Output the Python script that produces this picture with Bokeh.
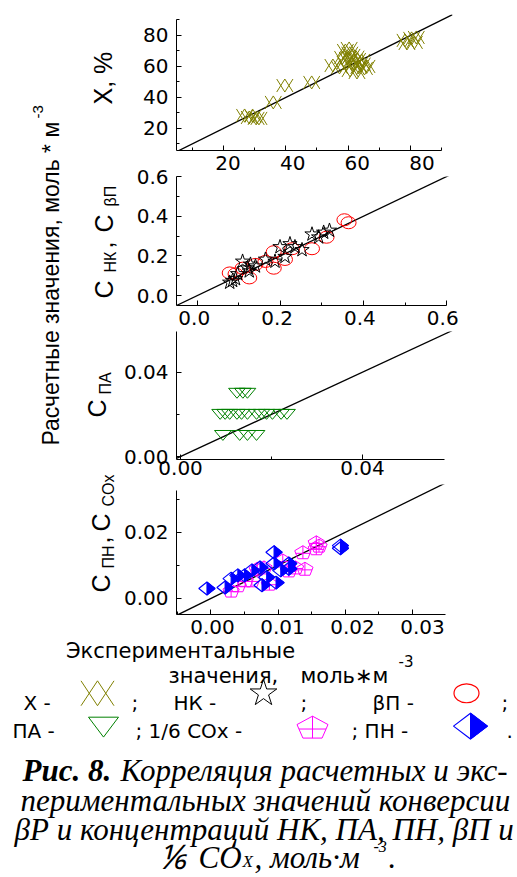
import math
from bokeh.plotting import figure
from bokeh.layouts import row, column
from bokeh.models import Range1d, LinearAxis, FixedTicker, PrintfTickFormatter, Label
from bokeh.embed import file_html
from bokeh.resources import INLINE

# ---------------- data ----------------
# Panel 1: conversion X, % (experimental vs calculated)
x_exp = [28.3, 30.5, 26.8, 31.4, 29.5, 36.0, 39.7, 48.3, 55.1, 57.2, 59.1, 59.7, 61.2, 62.2, 63.4,
         64.3, 60.6, 62.8, 65.2, 58.2, 60.3, 61.8, 63.0, 61.0, 60.5, 62.5, 64.5, 59.0, 66.0,
         78.8, 80.3, 81.2, 78.2, 81.8]
x_calc = [27.1, 26.5, 28.4, 26.5, 28.0, 36.8, 47.7, 49.7, 60.6, 59.4, 70.3, 65.2, 67.1, 62.6, 59.4,
          63.9, 57.4, 56.1, 58.7, 65.8, 71.6, 60.6, 64.5, 62.0, 68.5, 66.0, 61.5, 62.5, 60.0,
          74.8, 78.1, 75.5, 76.8, 78.7]
# Panel 2: НК (stars) and βП (circles)
nk_exp = [0.078, 0.085, 0.092, 0.097, 0.109, 0.121, 0.125, 0.128, 0.140, 0.164, 0.187, 0.199,
          0.211, 0.223, 0.235, 0.252, 0.276, 0.292, 0.304, 0.318]
nk_calc = [0.066, 0.075, 0.084, 0.109, 0.172, 0.138, 0.123, 0.157, 0.148, 0.182, 0.172, 0.245,
           0.196, 0.260, 0.245, 0.230, 0.309, 0.294, 0.318, 0.328]
bp_exp = [0.078, 0.092, 0.109, 0.125, 0.140, 0.164, 0.184, 0.184, 0.211, 0.228, 0.276, 0.311,
          0.354, 0.364]
bp_calc = [0.114, 0.109, 0.138, 0.089, 0.157, 0.172, 0.221, 0.138, 0.182, 0.236, 0.236, 0.294,
           0.382, 0.367]
# Panel 3: ПА (down triangles)
pa_exp = [0.0124, 0.0137, 0.0147,
          0.0087, 0.0098, 0.0108, 0.0124, 0.0134, 0.0147, 0.0167, 0.0178, 0.0189, 0.0202, 0.0221, 0.0234,
          0.0093, 0.0130, 0.0147, 0.0167]
pa_calc = [0.03, 0.03, 0.03,
           0.02, 0.02, 0.02, 0.02, 0.02, 0.02, 0.02, 0.02, 0.02, 0.02, 0.02, 0.02,
           0.01, 0.01, 0.01, 0.01]
# Panel 4: ПН (half-filled diamonds) and 1/6 COx (crossed pentagons)
pn_exp = [-0.0006, 0.0021, 0.0030, 0.0040, 0.0050, 0.0061, 0.0073, 0.0076, 0.0083, 0.0094, 0.0094,
          0.0097, 0.0104, 0.0116, 0.0116, 0.0193, 0.0193]
pn_calc = [0.0030, 0.0033, 0.0060, 0.0070, 0.0070, 0.0085, 0.0094, 0.0040, 0.0064, 0.0140, 0.0106,
           0.0048, 0.0085, 0.0090, 0.0106, 0.0160, 0.0152]
cox_exp = [0.0030, 0.0040, 0.0051, 0.0061, 0.0069, 0.0079, 0.0087, 0.0107, 0.0116, 0.0126, 0.0137,
           0.0140, 0.0157, 0.0157, 0.0161]
cox_calc = [0.0024, 0.0040, 0.0055, 0.0055, 0.0090, 0.0094, 0.0045, 0.0115, 0.0085, 0.0094, 0.0140,
            0.0090, 0.0170, 0.0152, 0.0160]

# tick values
p1_major = [20, 40, 60, 80]
p1_minor = [10, 30, 50, 70, 90]
p2_major = [0.0, 0.2, 0.4, 0.6]
p2_minor = [0.1, 0.3, 0.5]
p3_major = [0.0, 0.04]
p3_minor = [0.02]
p4_xmajor = [0.0, 0.01, 0.02, 0.03]
p4_xminor = [-0.005, 0.005, 0.015, 0.025]
p4_ymajor = [0.0, 0.02]
p4_yminor = [0.01, 0.03]

# ---------------- layout constants ----------------
W, H = 517, 877
LW = 120          # width of left label column
SANS = "DejaVu Sans"
ARIAL = "Liberation Sans"
SERIF = "Liberation Serif"
TICK_FS = "20px"

OLIVE, GREEN, RED, MAGENTA, BLUE = "#808000", "#008000", "#FF0000", "#FF00FF", "#0000FF"

# panel frames in page pixels and data ranges
# own: the panel prints its own x tick labels below; otherwise the next block prints them above itself
P = [
    dict(fig_top=0,   fl=176, fr=465, ft=14,  fb=150, bot=2, own=False, xr=(5.0, 93.4), yr=(5.8, 93.5),
         xb=(5.0, 90.0), yb=(5.8, 90.0), xt=p1_major, xm=p1_minor, yt=p1_major, ym=p1_minor,
         xf="%d", yf="%d"),
    dict(fig_top=152, fl=173, fr=452, ft=175, fb=305, bot=2, own=False, xr=(-0.05, 0.614), yr=(-0.05, 0.6),
         xb=(-0.05, 0.6), yb=(-0.05, 0.6), xt=p2_major, xm=p2_minor, yt=p2_major, ym=p2_minor,
         xf="%.1f", yf="%.1f"),
    dict(fig_top=307, fl=176, fr=456, ft=330, fb=459, bot=25, own=True, xr=(-0.0009, 0.0598), yr=(-0.0014, 0.0593),
         xb=(-0.0009, 0.058), yb=(-0.0014, 0.0593), xt=p3_major, xm=p3_minor, yt=p3_major, ym=p3_minor,
         xf="%.2f", yf="%.2f"),
    dict(fig_top=484, fl=176, fr=464, ft=484, fb=614, bot=2, own=False, xr=(-0.00514, 0.036), yr=(-0.00485, 0.0345),
         xb=(-0.00514, 0.0349), yb=(-0.00485, 0.0327), xt=p4_xmajor, xm=p4_xminor, yt=p4_ymajor, ym=p4_yminor,
         xf="%.2f", yf="%.2f"),
]
for d in P:
    d["sx"] = (d["fr"] - d["fl"]) / (d["xr"][1] - d["xr"][0])
    d["sy"] = (d["fb"] - d["ft"]) / (d["yr"][1] - d["yr"][0])


def prev_range(prev, fl, fr):
    return Range1d(prev["xr"][0] + (fl - prev["fl"]) / prev["sx"],
                   prev["xr"][0] + (fr - prev["fl"]) / prev["sx"])


def above_axis(prev):
    return LinearAxis(x_range_name="prev", ticker=FixedTicker(ticks=prev["xt"], minor_ticks=[]),
                      formatter=PrintfTickFormatter(format=prev["xf"]),
                      axis_line_color=None, major_tick_line_color=None, minor_tick_line_color=None,
                      major_label_standoff=1, major_label_text_font=SANS,
                      major_label_text_font_size=TICK_FS, major_label_text_color="black")


def make_panel(i):
    d = P[i]
    top_border = d["ft"] - d["fig_top"]
    height = top_border + (d["fb"] - d["ft"]) + d["bot"]
    p = figure(width=W - LW, height=height, x_range=Range1d(*d["xr"]), y_range=Range1d(*d["yr"]),
               x_axis_type=None, y_axis_type=None, output_backend="svg", toolbar_location=None,
               min_border_left=d["fl"] - LW, min_border_right=W - d["fr"],
               min_border_top=top_border, min_border_bottom=d["bot"])
    p.outline_line_color = None
    common = dict(major_tick_in=5, major_tick_out=0, minor_tick_in=3, minor_tick_out=0,
                  axis_line_color="black", major_tick_line_color="black", minor_tick_line_color="black")
    if d["own"]:
        xa = LinearAxis(ticker=FixedTicker(ticks=d["xt"], minor_ticks=d["xm"]), bounds=d["xb"],
                        formatter=PrintfTickFormatter(format=d["xf"]),
                        major_label_text_font=SANS, major_label_text_font_size=TICK_FS,
                        major_label_text_color="black", major_label_standoff=1, **common)
    else:
        # line and inward ticks only; the labels are printed by the block just below
        xa = LinearAxis(ticker=FixedTicker(ticks=d["xt"], minor_ticks=d["xm"]), bounds=d["xb"],
                        major_label_text_font_size="1px", major_label_text_color=None,
                        major_label_standoff=0, **common)
    p.add_layout(xa, "below")
    ya = LinearAxis(ticker=FixedTicker(ticks=d["yt"], minor_ticks=d["ym"]), bounds=d["yb"],
                    formatter=PrintfTickFormatter(format=d["yf"]),
                    major_label_text_font=SANS, major_label_text_font_size=TICK_FS,
                    major_label_text_color="black", major_label_standoff=8, **common)
    p.add_layout(ya, "left")
    if i > 0 and not P[i - 1]["own"]:
        p.extra_x_ranges = {"prev": prev_range(P[i - 1], d["fl"], d["fr"])}
        p.add_layout(above_axis(P[i - 1]), "above")
    diag = list(d["xr"])
    p.line(diag, diag, line_color="black", line_width=1.3)
    return p


# ---------- marker geometry (pixel offsets, converted through the scales) ----------
def shape(xs, ys, offs, sx, sy):
    return ([[x + ox / sx for ox, oy in offs] for x in xs],
            [[y + oy / sy for ox, oy in offs] for y in ys])


def xx_paths(hw, hh):
    return [[(-hw, -hh), (0, hh), (hw, -hh)], [(-hw, hh), (0, -hh), (hw, hh)]]


def tri_down(hw, hh):
    return [(-hw, hh), (hw, hh), (0, -hh)]


def diamond(hw, hh):
    return [(0, hh), (hw, 0), (0, -hh), (-hw, 0)]


def half_right(hw, hh):
    return [(0, hh), (hw, 0), (0, -hh)]


def pentagon(hw, ht):
    r = hw / math.cos(math.radians(18))
    ky = ht / (r * (1 + math.cos(math.radians(36))))
    shift = (1 - math.cos(math.radians(36))) / 2 * r * ky
    pts = [(r * math.cos(math.radians(90 + 72 * k)), r * math.sin(math.radians(90 + 72 * k)) * ky - shift)
           for k in range(5)]
    top = r * ky - shift
    bot = -math.cos(math.radians(36)) * r * ky - shift
    yh = -0.06 * r * ky - shift
    cross = [[(0, top), (0, bot)], [(-0.831 * r, yh), (0.831 * r, yh)]]
    return pts, cross


def draw_xx(p, xs, ys, sx, sy, hw, hh):
    for offs in xx_paths(hw, hh):
        mx, my = shape(xs, ys, offs, sx, sy)
        p.multi_line(mx, my, line_color=OLIVE, line_width=1)


def draw_tri(p, xs, ys, sx, sy, hw, hh):
    mx, my = shape(xs, ys, tri_down(hw, hh), sx, sy)
    p.patches(mx, my, fill_color=None, line_color=GREEN, line_width=1)


def draw_pent(p, xs, ys, sx, sy, hw, ht):
    pts, cross = pentagon(hw, ht)
    mx, my = shape(xs, ys, pts, sx, sy)
    p.patches(mx, my, fill_color=None, line_color=MAGENTA, line_width=1)
    for seg in cross:
        cx, cy = shape(xs, ys, seg, sx, sy)
        p.multi_line(cx, cy, line_color=MAGENTA, line_width=1)


def draw_dia(p, xs, ys, sx, sy, hw, hh):
    fx, fy = shape(xs, ys, half_right(hw, hh), sx, sy)
    p.patches(fx, fy, fill_color=BLUE, line_color=BLUE, line_width=1)
    ox, oy = shape(xs, ys, diamond(hw, hh), sx, sy)
    p.patches(ox, oy, fill_color=None, line_color=BLUE, line_width=1.2)


# ---------------- panels ----------------
pA = make_panel(0)
draw_xx(pA, x_exp, x_calc, P[0]["sx"], P[0]["sy"], 8.5, 6.5)

pB = make_panel(1)
pB.ellipse(x=bp_exp, y=bp_calc, width=15, height=12, width_units="screen", height_units="screen",
           fill_color=None, line_color=RED, line_width=1)
pB.scatter(x=nk_exp, y=nk_calc, marker="star", size=15, fill_color=None, line_color="black", line_width=1)

pC = make_panel(2)
draw_tri(pC, pa_exp, pa_calc, P[2]["sx"], P[2]["sy"], 8.5, 5.0)

pD = make_panel(3)
draw_pent(pD, cox_exp, cox_calc, P[3]["sx"], P[3]["sy"], 8.5, 13)
draw_dia(pD, pn_exp, pn_calc, P[3]["sx"], P[3]["sy"], 8.5, 6.5)


def lab(p, x, y, text, size, font=SANS, angle=0.0, style="normal", align="left"):
    p.add_layout(Label(x=x, y=y, text=text, angle=angle, text_font=font, text_font_size=f"{size}px",
                       text_font_style=style, text_color="black", text_baseline="alphabetic",
                       text_align=align))


# ---------------- left label column ----------------
LH = 616
pL = figure(width=LW, height=LH, x_range=Range1d(0, LW), y_range=Range1d(0, LH),
            x_axis_type=None, y_axis_type=None, output_backend="svg", toolbar_location=None,
            min_border_left=0, min_border_right=0, min_border_top=0, min_border_bottom=0)
pL.outline_line_color = None
R = math.pi / 2
lab(pL, 50, LH - 445, "Расчетные значения, моль * м", 23, ARIAL, R)
lab(pL, 37, LH - 118, "-3", 15, ARIAL, R)
MF, SF = 25, 16
lab(pL, 102, LH - 104, "X, %", MF, ARIAL, R)
lab(pL, 103, LH - 298, "C", MF, ARIAL, R)
lab(pL, 110, LH - 272, "НК", SF, ARIAL, R)
lab(pL, 103, LH - 248, ",", MF, ARIAL, R)
lab(pL, 103, LH - 232, "C", MF, ARIAL, R)
lab(pL, 110, LH - 206, "βП", SF, ARIAL, R)
lab(pL, 96, LH - 417, "C", MF, ARIAL, R)
lab(pL, 105, LH - 394, "ПА", SF, ARIAL, R)
lab(pL, 100, LH - 592, "C", MF, ARIAL, R)
lab(pL, 108, LH - 568, "ПН", SF, ARIAL, R)
lab(pL, 100, LH - 543, ",", MF, ARIAL, R)
lab(pL, 100, LH - 531, "C", MF, ARIAL, R)
lab(pL, 108, LH - 506, "COx", SF, ARIAL, R)

# ---------------- bottom: axis title, legend, caption ----------------
EH = H - 616
ETOP = 23
pE = figure(width=W, height=EH, x_range=Range1d(0, W), y_range=Range1d(0, EH - ETOP),
            x_axis_type=None, y_axis_type=None, output_backend="svg", toolbar_location=None,
            min_border_left=0, min_border_right=0, min_border_top=ETOP, min_border_bottom=0)
pE.outline_line_color = None
pE.extra_x_ranges = {"prev": prev_range(P[3], 0, W)}
pE.add_layout(above_axis(P[3]), "above")


def Y(abs_y):
    return H - abs_y


lab(pE, 180, Y(650), "Экспериментальные", 21, align="center")
lab(pE, 168, Y(675), "значения,", 21)
lab(pE, 300, Y(675), "моль∗м", 21)
lab(pE, 398, Y(660), "-3", 15)

# legend row 1
lab(pE, 23, Y(702), "X -", 20)
draw_xx(pE, [97], [Y(692)], 1, 1, 16.5, 12.5)
lab(pE, 131, Y(702), ";", 20)
lab(pE, 173, Y(702), "НК -", 20)
pE.scatter(x=[263], y=[Y(692)], marker="star", size=28, fill_color=None, line_color="black", line_width=1)
lab(pE, 300, Y(702), ";", 20)
lab(pE, 372, Y(702), "βП -", 20)
pE.ellipse(x=[466], y=[Y(692)], width=25, height=19, fill_color=None, line_color=RED, line_width=1.2)
lab(pE, 501, Y(702), ";", 20)
# legend row 2
lab(pE, 12, Y(730), "ПА -", 20)
draw_tri(pE, [103], [Y(726)], 1, 1, 15, 10)
lab(pE, 135, Y(730), "; 1/6 COx -", 20)
draw_pent(pE, [312], [Y(726)], 1, 1, 15.5, 22)
lab(pE, 351, Y(730), "; ПН -", 20)
draw_dia(pE, [470], [Y(725)], 1, 1, 17, 13)
lab(pE, 506, Y(730), ".", 20)

# caption
CF = 31
lab(pE, 22, Y(770), "Рис. 8.", CF, SERIF, 0, "bold italic")
lab(pE, 120, Y(770), "Корреляция расчетных и экс-", CF, SERIF, 0, "italic")
lab(pE, 20, Y(800), "периментальных значений конверсии", CF, SERIF, 0, "italic")
lab(pE, 14, Y(829), "βР и концентраций НК, ПА, ПН, βП и", CF, SERIF, 0, "italic")
lab(pE, 158, Y(857), "⅙", 34, SERIF, 0, "italic")
lab(pE, 198, Y(857), "CO", CF, SERIF, 0, "italic")
lab(pE, 242, Y(861), "X", 17, SERIF, 0, "italic")
lab(pE, 254, Y(857), ", моль·м", CF, SERIF, 0, "italic")
lab(pE, 373, Y(846), "-3", 16, SERIF, 0, "italic")
lab(pE, 388, Y(857), ".", CF, SERIF, 0, "italic")

layout = column(row(pL, column(pA, pB, pC, pD)), pE)

with open("out.html", "w") as f:
    f.write(file_html(layout, INLINE, "Рис. 8"))
